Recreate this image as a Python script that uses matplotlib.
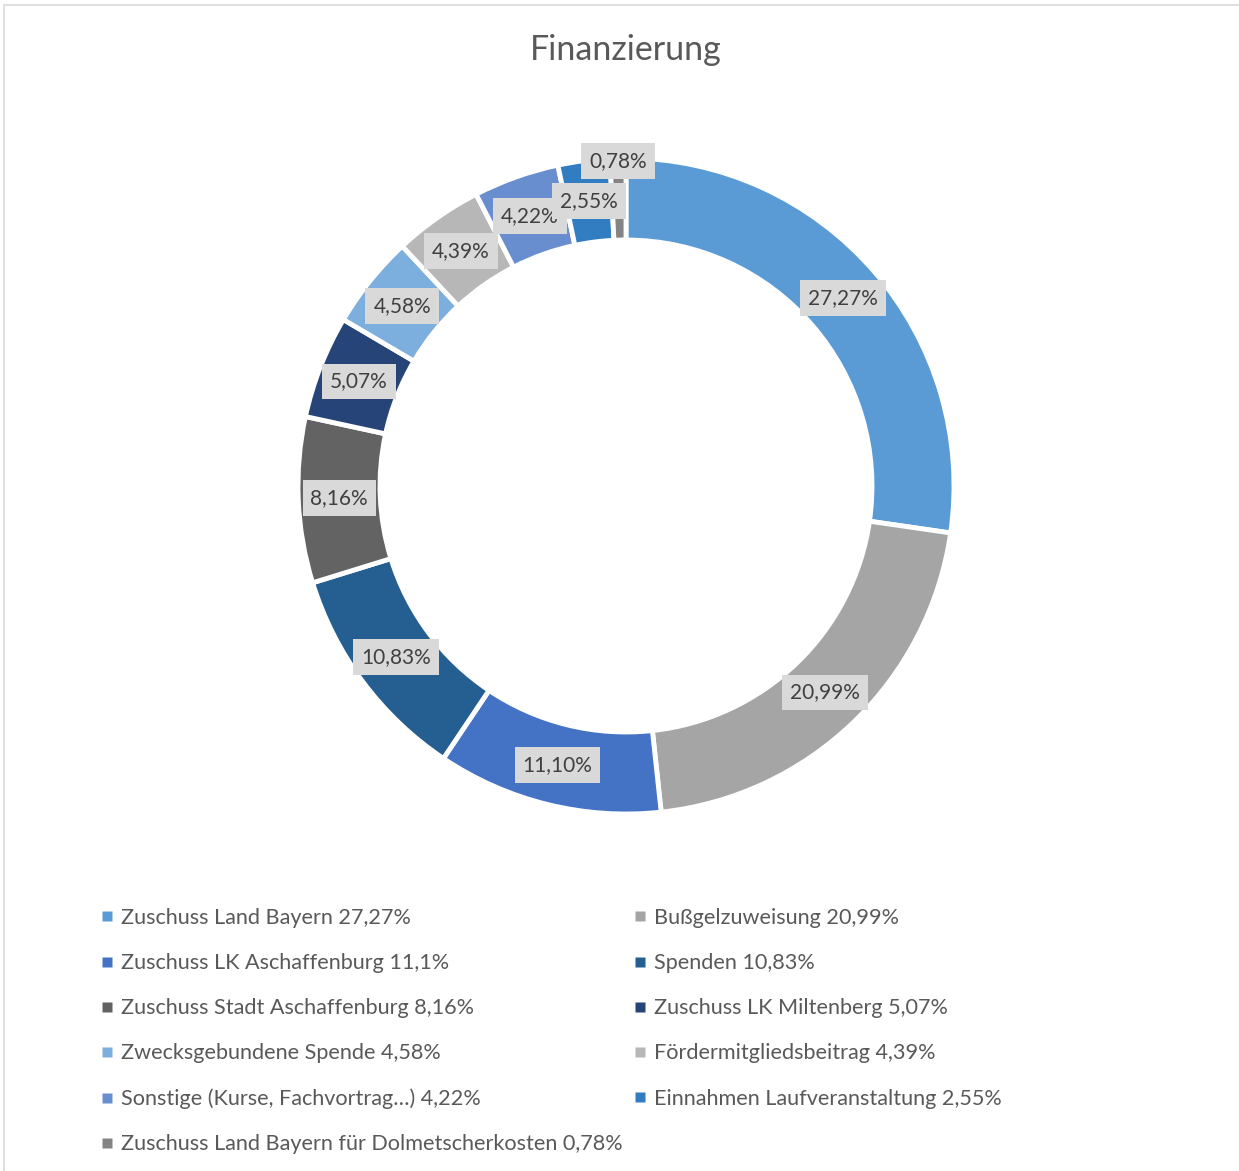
import numpy as np
import matplotlib
matplotlib.use('Agg')
import matplotlib.pyplot as plt
from matplotlib.lines import Line2D
from matplotlib.patches import Rectangle

plt.rcParams['font.family'] = ['Lato', 'DejaVu Sans']

# Daten
labels = ['Zuschuss Land Bayern', 'Bußgelzuweisung', 'Zuschuss LK Aschaffenburg',
          'Spenden', 'Zuschuss Stadt Aschaffenburg', 'Zuschuss LK Miltenberg',
          'Zwecksgebundene Spende', 'Fördermitgliedsbeitrag',
          'Sonstige (Kurse, Fachvortrag…)', 'Einnahmen Laufveranstaltung',
          'Zuschuss Land Bayern für Dolmetscherkosten']
values = [27.27, 20.99, 11.10, 10.83, 8.16, 5.07, 4.58, 4.39, 4.22, 2.55, 0.78]
legend_values = ['27,27%', '20,99%', '11,1%', '10,83%', '8,16%', '5,07%',
                 '4,58%', '4,39%', '4,22%', '2,55%', '0,78%']
colors = ['#5B9BD5', '#A5A5A5', '#4472C4', '#255E91', '#636363', '#264478',
          '#7CAFDD', '#B7B7B7', '#698ED0', '#327DC2', '#848484']

W, H = 1239, 1171
fig = plt.figure(figsize=(W / 100, H / 100), dpi=100)

# Rahmen
fig.patches.append(Rectangle((4 / W, -0.01), 1.02, 1 - 5 / H + 0.01, transform=fig.transFigure,
                             fill=False, edgecolor='#D9D9D9', linewidth=1.2, clip_on=False))

# Donut
cx, cy, R = 626, 486, 328
ax = fig.add_axes([(cx - R) / W, (H - cy - R) / H, 2 * R / W, 2 * R / H])
wedges, _ = ax.pie(values, colors=colors, startangle=90, counterclock=False, radius=1,
                   wedgeprops=dict(width=0.25, edgecolor='white', linewidth=3.5))
ax.set_xlim(-1, 1)
ax.set_ylim(-1, 1)
ax.set_aspect('equal')
ax.axis('off')

# Datenbeschriftungen
cum = np.cumsum(values) - np.array(values) / 2
for i, (v, c) in enumerate(zip(values, cum)):
    ang = np.deg2rad(90 - c / sum(values) * 360)
    r = 0.875 if v > 1 else 0.99
    txt = f'{v:.2f}%'.replace('.', ',')
    ax.text(r * np.cos(ang), r * np.sin(ang), txt, ha='center', va='center',
            fontsize=15, color='#404040',
            bbox=dict(boxstyle='square,pad=0.38', facecolor='#D9D9D9', edgecolor='none'))

fig.text(cx / W, 1 - 50 / H, 'Finanzierung', ha='center', va='center',
         fontsize=24.5, color='#595959')

# Legende: zeilenweise, zwei Spalten
order = list(range(0, 11, 2)) + list(range(1, 11, 2))
handles = [Line2D([], [], linestyle='none', marker='s', markersize=6.5,
                  markerfacecolor=colors[i], markeredgecolor='none') for i in order]
texts = [f'{labels[i]} {legend_values[i]}' for i in order]
leg = fig.legend(handles, texts, ncol=2, loc='upper left',
                 bbox_to_anchor=(100 / W, 1 - 908 / H), frameon=False,
                 fontsize=15.6, labelcolor='#595959', handlelength=0.6,
                 handletextpad=0.35, columnspacing=0.5, labelspacing=1.16,
                 borderpad=0, borderaxespad=0)

fig.savefig('out.png', dpi=100, facecolor='white')
